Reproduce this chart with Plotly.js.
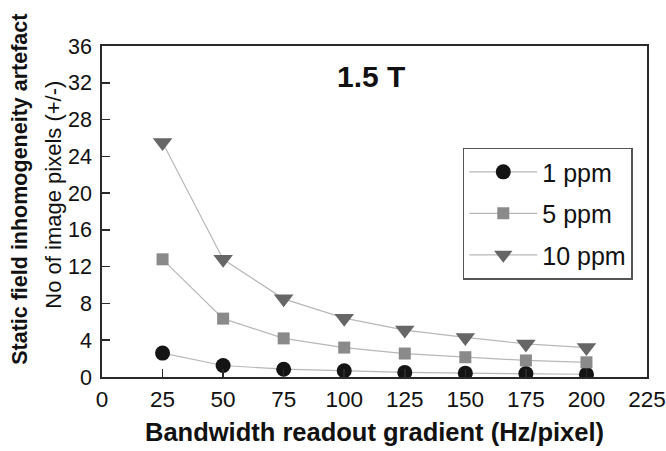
<!DOCTYPE html>
<html>
<head>
<meta charset="utf-8">
<script src="https://cdn.plot.ly/plotly-3.0.1.min.js"></script>
<style>html,body{margin:0;padding:0;background:#fff;}#chart{width:666px;height:451px;}</style>
</head>
<body>
<div id="chart"></div>
<script>
const bandwidth = [25, 50, 75, 100, 125, 150, 175, 200];
const ppm1 = [2.6, 1.25, 0.85, 0.68, 0.5, 0.42, 0.37, 0.3];
const ppm5 = [12.8, 6.35, 4.2, 3.2, 2.55, 2.15, 1.8, 1.6];
const ppm10 = [25.5, 12.8, 8.5, 6.4, 5.1, 4.3, 3.6, 3.2];
const seriesNames = ['1 ppm', '5 ppm', '10 ppm'];
const xTicks = [0, 25, 50, 75, 100, 125, 150, 175, 200, 225];
const yTicks = [0, 4, 8, 12, 16, 20, 24, 28, 32, 36];

const font = 'Arial, "Liberation Sans", Helvetica, sans-serif';
const lineStyle = {color: '#b8b8b8', width: 1.2};

const traces = [
  {x: bandwidth, y: ppm1, name: seriesNames[0], legendgroup: 'a', mode: 'lines+markers',
   line: lineStyle, marker: {symbol: 'circle', size: 15, color: '#141414'}},
  {x: bandwidth, y: ppm5, name: seriesNames[1], legendgroup: 'b', mode: 'lines+markers',
   line: lineStyle, marker: {symbol: 'square', size: 12, color: '#8a8a8a'}},
  {x: bandwidth, y: ppm10, name: seriesNames[2], legendgroup: 'c', mode: 'lines+markers',
   line: lineStyle, marker: {symbol: 'triangle-down', size: 17, color: '#666666'}}
];

const axisCommon = {
  showgrid: false, zeroline: false, showline: true, linecolor: '#2a2a2a', linewidth: 1.8,
  mirror: true, ticks: 'inside', ticklen: 8, tickwidth: 1.5, tickcolor: '#2a2a2a'
};

const layout = {
  width: 666, height: 451,
  margin: {l: 102, r: 19, t: 46, b: 74, pad: 0},
  paper_bgcolor: '#fff', plot_bgcolor: '#fff',
  showlegend: true,
  xaxis: Object.assign({}, axisCommon, {
    range: [0, 225], tickvals: xTicks, ticktext: xTicks.map(String),
    ticklabelstandoff: 1,
    tickfont: {family: font, size: 22.5, color: '#111'},
    title: {text: '<b>Bandwidth readout gradient (Hz/pixel)</b>', font: {family: font, size: 25.5, color: '#111'}, standoff: 12}
  }),
  yaxis: Object.assign({}, axisCommon, {
    range: [0, 36], tickvals: yTicks, ticktext: yTicks.map(String),
    ticklabelstandoff: 4,
    tickfont: {family: font, size: 21.5, color: '#111'}
  }),
  legend: {
    x: 0.662, y: 0.693, xanchor: 'left', yanchor: 'top',
    bordercolor: '#555', borderwidth: 1.5, bgcolor: '#fff',
    font: {family: font, size: 25, color: '#111'},
    tracegroupgap: 6, itemwidth: 68
  },
  annotations: [
    {text: '<b>1.5 T</b>', xref: 'paper', yref: 'paper', x: 0.494, y: 0.908,
     xanchor: 'center', yanchor: 'middle', showarrow: false,
     font: {family: font, size: 30, color: '#111'}},
    {text: '<b>Static field inhomogeneity artefact</b>', xref: 'paper', yref: 'paper',
     x: -0.152, y: 0.566, xanchor: 'center', yanchor: 'middle', textangle: -90, showarrow: false,
     font: {family: font, size: 21.5, color: '#111'}},
    {text: 'No of image pixels (+/-)', xref: 'paper', yref: 'paper',
     x: -0.088, y: 0.551, xanchor: 'center', yanchor: 'middle', textangle: -90, showarrow: false,
     font: {family: font, size: 22, color: '#111'}}
  ]
};

Plotly.newPlot('chart', traces, layout, {displayModeBar: false, staticPlot: true});
</script>
</body>
</html>
